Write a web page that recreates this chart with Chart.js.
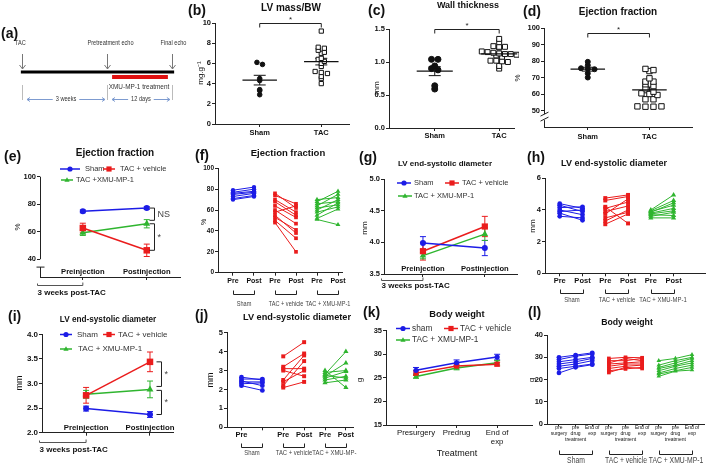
<!DOCTYPE html>
<html>
<head>
<meta charset="utf-8">
<title>XMU-MP-1 after TAC</title>
<script src="https://cdn.jsdelivr.net/npm/chart.js@4.4.1/dist/chart.umd.min.js"></script>
<style>
  body { margin: 0; background: #fff; }
  #fig { position: relative; width: 709px; height: 464px; overflow: hidden; font-family: "Liberation Sans", Arial, sans-serif; color: #111; }
  #fig canvas { position: absolute; }
  .t { position: absolute; white-space: nowrap; line-height: 1; }
  .lab { font-size: 14px; font-weight: bold; }
  .ttl { font-weight: bold; transform: translate(-50%, -50%); }
  .yt { transform: translate(-50%, -50%) rotate(-90deg); }
  .ctr { transform: translate(-50%, -50%); }
</style>
</head>
<body>
<div id="fig"></div>
<script>
const BLUE = '#1c1ce6', RED = '#ea1c1c', GREEN = '#2fb52f';
const FONT = '"Liberation Sans", Arial, sans-serif';

// (a) timeline
const tlEvents = ['TAC', 'Pretreatment echo', 'Final echo'];
const tlPos = [0, 3, 5.29];
const tlPeriods = ['3 weeks', '12 days'];

// (b)-(d) single animals, Sham vs TAC
const groupNames = ['Sham', 'TAC'];
const massSham = [6.1, 5.9, 4.5, 4.3, 3.4, 3.3, 2.9];
const massTAC = [9.2, 7.6, 7.5, 7.3, 7.1, 7.0, 6.5, 6.4, 6.2, 6.0, 5.7, 5.2, 5.1, 5.0, 4.7, 4.5, 4.0];
const wallSham = [1.04, 1.04, 0.94, 0.90, 0.88, 0.64, 0.59];
const wallTAC = [1.35, 1.30, 1.24, 1.23, 1.23, 1.22, 1.16, 1.15, 1.14, 1.13, 1.12, 1.12, 1.11, 1.10, 1.08, 1.02, 1.02, 1.01, 1.00, 0.94, 0.90];
const efSham = [79.5, 77.4, 75.6, 75.2, 75.0, 72.5, 70.0];
const efTAC = [75.2, 74.5, 73.9, 69.5, 67.5, 67.5, 65.9, 64.8, 63.5, 61.4, 60.4, 60.0, 59.4, 56.8, 56.8, 52.5, 52.3, 52.3, 52.5];

// three treatment groups
const treatNames = ['Sham', 'TAC + vehicle', 'TAC + XMU-MP-1'];
const injLabels = ['Preinjection', 'Postinjection'];

// (e) ejection fraction, mean and SEM
const efMeanSham = [74.8, 77.2], efErrSham = [1.0, 1.0];
const efMeanVeh = [62.7, 46.5], efErrVeh = [3.5, 4.5];
const efMeanXmu = [59.3, 65.8], efErrXmu = [2.0, 3.0];

// (f) ejection fraction, each mouse
const prePost = ['Pre', 'Post', 'Pre', 'Post', 'Pre', 'Post'];
const efShamPre = [79, 77, 76, 75, 73, 71, 70];
const efShamPost = [82, 80, 78, 77, 76, 74, 73];
const efVehPre = [76, 74, 70, 68, 64, 60, 58, 55, 53, 50, 48];
const efVehPost = [62, 66, 58, 55, 53, 47, 64, 38, 41, 33, 20];
const efXmuPre = [70, 68, 66, 64, 62, 60, 58, 55, 52, 51];
const efXmuPost = [72, 78, 68, 75, 65, 70, 63, 67, 61, 46];

// (g) LV end-systolic diameter, mean and SEM
const esdAMeanSham = [3.99, 3.91], esdAErrSham = [0.10, 0.12];
const esdAMeanVeh = [3.86, 4.25], esdAErrVeh = [0.14, 0.16];
const esdAMeanXmu = [3.79, 4.13], esdAErrXmu = [0.05, 0.10];

// (h) LV end-systolic diameter, each mouse
const esdAShamPre = [4.4, 4.3, 4.15, 4.0, 3.9, 3.8, 3.6];
const esdAShamPost = [4.1, 3.9, 4.2, 3.7, 4.0, 3.35, 3.5];
const esdAVehPre = [4.75, 4.6, 4.2, 4.1, 3.9, 3.75, 3.5, 3.3, 3.1];
const esdAVehPost = [4.95, 4.85, 3.15, 4.5, 4.25, 4.7, 3.85, 4.0, 3.75];
const esdAXmuPre = [4.0, 3.95, 3.9, 3.85, 3.8, 3.75, 3.7, 3.6, 3.5];
const esdAXmuPost = [4.95, 4.6, 4.3, 4.45, 4.1, 3.95, 3.65, 3.85, 3.5];

// (i) second cohort, mean and SEM
const esdBMeanSham = [2.49, 2.37], esdBErrSham = [0.05, 0.06];
const esdBMeanVeh = [2.76, 3.44], esdBErrVeh = [0.16, 0.20];
const esdBMeanXmu = [2.78, 2.88], esdBErrXmu = [0.08, 0.17];

// (j) second cohort, each mouse
const prePostJ = ['Pre', '', 'Pre', 'Post', 'Pre', 'Post'];
const esdBShamPre = [2.65, 2.55, 2.45, 2.4, 2.3, 2.2];
const esdBShamPost = [2.5, 2.55, 2.2, 2.4, 2.35, 1.95];
const esdBVehPre = [3.75, 3.2, 3.1, 3.0, 2.5, 2.4, 2.2, 2.1];
const esdBVehPost = [4.5, 3.9, 3.1, 2.7, 3.8, 3.0, 3.5, 2.4];
const esdBXmuPre = [3.0, 2.9, 2.8, 2.75, 2.7, 2.6, 2.5, 2.35];
const esdBXmuPost = [2.1, 3.0, 4.0, 2.6, 3.4, 2.95, 2.7, 2.5];

// (k) body weight, mean and SEM
const bwTimes = ['Presurgery', 'Predrug', ['End of', 'exp']];
const bwMeanSham = [26.6, 28.2, 29.4], bwErrSham = [0.6, 0.6, 0.6];
const bwMeanVeh = [26.0, 27.5, 27.9], bwErrVeh = [0.5, 0.4, 0.4];
const bwMeanXmu = [25.3, 27.1, 28.2], bwErrXmu = [0.4, 0.4, 0.5];

// (l) body weight, each mouse
const bwTimesShort = [['pre', 'surgery'], ['pre', 'drug', 'treatment'], ['End of', 'exp']];
const bwShamPre = [30, 29, 28, 27, 26, 25, 23];
const bwShamDrug = [31, 30.5, 29, 28, 27, 26, 25.5];
const bwShamEnd = [32, 31.5, 30, 29.5, 28.5, 27, 26.7];
const bwVehPre = [29.5, 28.5, 27.5, 27, 26, 25, 24, 23.2];
const bwVehDrug = [30, 28.5, 29.5, 27.5, 27, 26, 24.8, 25.5];
const bwVehEnd = [29.8, 29.5, 28.5, 28, 27, 26.5, 25.5, 25];
const bwXmuPre = [28.5, 26.5, 25.5, 25, 24, 23, 22.5, 21.5];
const bwXmuDrug = [29.5, 28.5, 27.5, 26.5, 26, 25, 24, 23.8];
const bwXmuEnd = [31.2, 30, 29.5, 28.5, 27.5, 26.5, 25.5, 24.3];

Chart.defaults.font.family = FONT;
Chart.defaults.color = '#111';

const fig = document.getElementById('fig');

function addText(txt, x, y, cls, size, extra) {
  const d = document.createElement('div');
  d.className = 't ' + cls;
  d.textContent = txt;
  d.style.left = x + 'px';
  d.style.top = y + 'px';
  if (size) d.style.fontSize = size + 'px';
  if (extra) Object.assign(d.style, extra);
  fig.appendChild(d);
}

function seg(ctx, pts) {
  ctx.beginPath();
  pts.forEach((p, i) => i ? ctx.lineTo(p[0], p[1]) : ctx.moveTo(p[0], p[1]));
  ctx.stroke();
}

// the original uses a condensed face; squeeze the regular one sideways
function narrowText(ctx, txt, x, y, k) {
  ctx.save();
  ctx.translate(x, y);
  ctx.scale(k || 0.82, 1);
  ctx.fillText(txt, 0, 0);
  ctx.restore();
}

function mark(ctx, style, x, y, r) {
  ctx.beginPath();
  if (style === 'circle') ctx.arc(x, y, r, 0, Math.PI * 2);
  else if (style === 'rect') ctx.rect(x - r, y - r, 2 * r, 2 * r);
  else { ctx.moveTo(x, y - r * 1.1); ctx.lineTo(x + r, y + r * 0.7); ctx.lineTo(x - r, y + r * 0.7); ctx.closePath(); }
  ctx.fill();
}

const mean = a => a.reduce((s, v) => s + v, 0) / a.length;
const sem = a => { const m = mean(a); return Math.sqrt(a.reduce((s, v) => s + (v - m) * (v - m), 0) / (a.length - 1) / a.length); };

// error bars, brackets, legends and other extras drawn on top of the scales
const deco = {
  id: 'deco',
  beforeDatasetsDraw(chart) {
    const ctx = chart.ctx, xs = chart.scales.x, ys = chart.scales.y;
    ctx.save();
    chart.data.datasets.forEach(ds => {
      if (!ds.errorBars) return;
      ctx.strokeStyle = ds.borderColor;
      ctx.lineWidth = 1;
      ds.data.forEach((p, k) => {
        const e = ds.errorBars[k];
        if (!e) return;
        const px = xs.getPixelForValue(p.x), a = ys.getPixelForValue(p.y - e), b = ys.getPixelForValue(p.y + e), c = ds.capWidth || 3;
        seg(ctx, [[px, a], [px, b]]);
        seg(ctx, [[px - c, a], [px + c, a]]);
        seg(ctx, [[px - c, b], [px + c, b]]);
      });
    });
    ctx.restore();
  },
  afterDraw(chart) {
    const d = chart.data.deco;
    if (!d) return;
    const ctx = chart.ctx, ca = chart.chartArea;
    const X = v => chart.scales.x.getPixelForValue(v), Y = v => chart.scales.y.getPixelForValue(v);
    const L = Math.round(ca.left) + 0.5;
    ctx.save();
    ctx.strokeStyle = '#222'; ctx.fillStyle = '#222'; ctx.lineWidth = 1;
    if (d.yLine) seg(ctx, [[L, Y(d.yLine[0])], [L, Y(d.yLine[1])]]);
    if (d.yStub) {
      const a = Y(d.yStub[0]), b = Y(d.yStub[1]);
      seg(ctx, [[L, a], [L, b]]);
      seg(ctx, [[L - 4, b], [L + 4, b]]);
    }
    if (d.yBreak != null) {
      const yb = Y(d.yBreak);
      ctx.fillStyle = '#fff';
      ctx.fillRect(L - 2, yb - 3, 4, 6);
      seg(ctx, [[L - 4, yb - 1], [L + 4, yb - 5]]);
      seg(ctx, [[L - 4, yb + 4], [L + 4, yb]]);
      ctx.fillStyle = '#222';
    }
    ctx.textAlign = 'center'; ctx.textBaseline = 'middle';
    if (d.above) {
      // Prism placed these category names just above the x axis line
      ctx.font = 'bold ' + d.above.size + 'px ' + FONT;
      ctx.fillStyle = '#111';
      d.above.pos.forEach((p, i) => ctx.fillText(d.above.labels[i], X(p), ca.bottom + d.above.dy));
      ctx.fillStyle = '#222';
    }
    (d.hBrackets || []).forEach(b => {
      const a = X(b.x1), c = X(b.x2), py = Math.round(Y(b.y)) + 0.5;
      seg(ctx, [[a, py + b.drop], [a, py], [c, py], [c, py + b.drop]]);
      ctx.font = '8px ' + FONT;
      ctx.fillText(b.text, (a + c) / 2, py - 4);
    });
    (d.vBrackets || []).forEach(b => {
      const px = Math.round(X(b.x)) + 0.5, a = Y(b.y1), c = Y(b.y2);
      seg(ctx, [[px - b.arm, a], [px, a], [px, c], [px - b.arm, c]]);
      ctx.font = '9px ' + FONT;
      ctx.textAlign = 'left';
      ctx.fillStyle = '#444';
      ctx.fillText(b.text, px + 3, (a + c) / 2);
      ctx.fillStyle = '#222';
      ctx.textAlign = 'center';
    });
    if (d.weeks) {
      const w = d.weeks, yy = Math.round(ca.bottom + w.dy) + 0.5, a = L - 3, b = X(w.x2);
      ctx.strokeStyle = '#555';
      seg(ctx, [[a, yy - 2], [a, yy], [b, yy], [b, yy - 3]]);
      ctx.font = 'bold 8px ' + FONT;
      ctx.textAlign = 'left';
      ctx.fillStyle = '#111';
      ctx.fillText(w.text, a, ca.bottom + w.ty);
      ctx.textAlign = 'center';
      ctx.strokeStyle = '#222';
    }
    if (d.groups) {
      ctx.font = (d.gSize || 7) + 'px ' + FONT;
      d.groups.forEach(g => {
        const a = Math.round(X(g.x1)) + 0.5, c = Math.round(X(g.x2)) + 0.5, yy = Math.round(ca.bottom + d.gLine) + 0.5;
        ctx.strokeStyle = '#222';
        seg(ctx, [[a, yy - d.gTick], [a, yy], [c, yy], [c, yy - d.gTick]]);
        ctx.fillStyle = '#444';
        narrowText(ctx, g.text, (a + c) / 2, ca.bottom + d.gText, 0.8);
      });
    }
    if (d.legend) {
      ctx.font = (d.legendSize || 7.5) + 'px ' + FONT;
      ctx.textAlign = 'left';
      d.legend.forEach(it => {
        const x = it.x - d.ox, y = it.y - d.oy, hw = it.hw || 7;
        ctx.strokeStyle = it.c; ctx.fillStyle = it.c; ctx.lineWidth = 1.5;
        seg(ctx, [[x - hw, y], [x + hw, y]]);
        mark(ctx, it.s, x, y, 2.6);
        ctx.fillStyle = '#333';
        ctx.fillText(it.t, it.tx - d.ox, y);
      });
    }
    ctx.restore();
  }
};
Chart.register(deco);

function xAxis(min, max, pos, labels, o) {
  o = o || {};
  return {
    type: 'linear', min, max,
    afterBuildTicks: s => { s.ticks = pos.map(v => ({ value: v })); },
    ticks: {
      autoSkip: false, maxRotation: 0, minRotation: 0, padding: o.pad == null ? 1 : o.pad, color: '#111',
      font: { size: o.size || 7.5, weight: o.weight || 'bold', lineHeight: o.lh || 1.2 },
      callback: (v, i) => labels[i]
    },
    grid: { display: true, drawOnChartArea: false, drawTicks: true, tickLength: o.tl == null ? 3 : o.tl, color: '#222', lineWidth: 1 },
    border: { display: true, color: '#222', width: 1 }
  };
}

function yAxis(min, max, ticks, fmt, o) {
  o = o || {};
  return {
    type: 'linear', min, max,
    afterBuildTicks: s => { s.ticks = ticks.map(v => ({ value: v })); },
    ticks: { padding: 1, color: '#111', font: { size: o.size || 7.5, weight: 'bold' }, callback: v => fmt(v) },
    grid: { display: true, drawOnChartArea: false, drawTicks: true, tickLength: 3, color: '#222', lineWidth: 1 },
    border: { display: o.border == null ? true : o.border, color: '#222', width: 1 }
  };
}

function panel(box, config) {
  const left = Math.round(box.l - box.yw), top = Math.round(box.t - box.pt);
  const w = Math.round(box.r + box.pr) - left, h = Math.round(box.b + box.xh) - top;
  const c = document.createElement('canvas');
  c.width = w; c.height = h;
  c.style.left = left + 'px'; c.style.top = top + 'px';
  c.style.width = w + 'px'; c.style.height = h + 'px';
  fig.appendChild(c);
  const o = config.options = config.options || {};
  o.responsive = false;
  o.animation = false;
  o.events = [];
  o.layout = { padding: { left: 0, top: box.t - top, right: left + w - box.r, bottom: 0 } };
  o.plugins = { legend: { display: false }, tooltip: { enabled: false } };
  o.scales.x.afterFit = s => { s.height = top + h - box.b; };
  o.scales.y.afterFit = s => { s.width = box.l - left; };
  if (config.data.deco) { config.data.deco.ox = left; config.data.deco.oy = top; }
  return new Chart(c, config);
}

// dot cloud like Prism's scatter: values in the same band are spread sideways
function swarm(vals, pos, bin, dx) {
  const rows = {};
  vals.forEach(v => { const k = Math.round(v / bin); (rows[k] = rows[k] || []).push(v); });
  const out = [];
  Object.values(rows).forEach(r => r.forEach((v, i) => out.push({ x: pos + (i - (r.length - 1) / 2) * dx, y: v })));
  return out;
}

function swarmSets(vals, pos, style, r, bin, dx) {
  const m = mean(vals);
  return [
    { data: [{ x: pos - 0.28, y: m }, { x: pos + 0.28, y: m }], showLine: true, pointRadius: 0, borderColor: '#111', borderWidth: 1.2, clip: false },
    { data: [{ x: pos, y: m }], pointRadius: 0, errorBars: [sem(vals)], capWidth: 6, borderColor: '#111', clip: false },
    { data: swarm(vals, pos, bin, dx), pointStyle: style, pointRadius: r, backgroundColor: style === 'circle' ? '#111' : '#fff', borderColor: '#111', pointBorderWidth: 1, clip: false }
  ];
}

function meanSets(groups, pos) {
  return groups.map(g => ({
    data: g.m.map((v, i) => ({ x: pos[i], y: v })),
    errorBars: g.e, capWidth: 3,
    showLine: true, borderColor: g.c, backgroundColor: g.c, borderWidth: 1.5,
    pointStyle: g.s, pointRadius: g.r, pointBorderWidth: 0, clip: false
  }));
}

function pairSets(groups) {
  const out = [];
  groups.forEach(g => {
    g.cols[0].forEach((_, i) => out.push({
      data: g.cols.map((col, k) => ({ x: g.xs[k], y: col[i] })),
      showLine: true, borderColor: g.c, backgroundColor: g.c, borderWidth: 1,
      pointStyle: g.s, pointRadius: g.r, pointBorderWidth: 0, clip: false
    }));
  });
  return out;
}

const num = v => String(v);
const dec1 = v => v.toFixed(1);
const blank = ['', ''];

// (a) study timeline
const timeline = {
  id: 'timeline',
  afterDatasetsDraw(chart) {
    const ctx = chart.ctx, X = v => chart.scales.x.getPixelForValue(v), Y = v => chart.scales.y.getPixelForValue(v);
    ctx.save();
    ctx.textAlign = 'center'; ctx.textBaseline = 'middle';
    ctx.font = '7px ' + FONT;
    tlPos.forEach((x, i) => {
      const px = Math.round(X(x)) + 0.5;
      ctx.fillStyle = '#333';
      narrowText(ctx, tlEvents[i], px + (i === 0 ? -2 : i === 1 ? 3 : 1), Y(67), 0.8);
      ctx.strokeStyle = '#777'; ctx.lineWidth = 1;
      seg(ctx, [[px, Y(56)], [px, Y(41)]]);
      seg(ctx, [[px - 3, Y(45)], [px, Y(41)], [px + 3, Y(45)]]);
      ctx.strokeStyle = '#bbb';
      seg(ctx, [[px, Y(25)], [px, Y(10)]]);
    });
    ctx.font = '8px ' + FONT;
    narrowText(ctx, 'XMU-MP-1 treatment', X(4.13), Y(23), 0.8);
    ctx.font = '7px ' + FONT;
    for (let i = 0; i < tlPeriods.length; i++) {
      const a = X(tlPos[i]) + 5, b = X(tlPos[i + 1]) - 2, yy = Math.round(Y(11)) + 0.5;
      ctx.strokeStyle = '#7d9bd0'; ctx.fillStyle = '#7d9bd0';
      seg(ctx, [[a, yy], [b, yy]]);
      seg(ctx, [[a + 3, yy - 2], [a, yy], [a + 3, yy + 2]]);
      seg(ctx, [[b - 3, yy - 2], [b, yy], [b - 3, yy + 2]]);
      const tw = ctx.measureText(tlPeriods[i]).width * 0.8 + 6;
      ctx.fillStyle = '#fff';
      ctx.fillRect((a + b) / 2 - tw / 2, yy - 4, tw, 8);
      ctx.fillStyle = '#333';
      narrowText(ctx, tlPeriods[i], (a + b) / 2, yy, 0.8);
    }
    ctx.restore();
  }
};

(function drawTimeline() {
  const c = document.createElement('canvas');
  c.width = 190; c.height = 70;
  c.style.left = '0px'; c.style.top = '40px'; c.style.width = '190px'; c.style.height = '70px';
  fig.appendChild(c);
  new Chart(c, {
    type: 'scatter',
    data: {
      datasets: [
        { data: [{ x: tlPos[0] - 0.04, y: 38 }, { x: tlPos[2] + 0.08, y: 38 }], showLine: true, borderColor: '#000', borderWidth: 3, pointRadius: 0 },
        { data: [{ x: tlPos[1] + 0.18, y: 33 }, { x: tlPos[2] - 0.14, y: 33 }], showLine: true, borderColor: '#e01010', borderWidth: 4, pointRadius: 0 }
      ]
    },
    options: {
      responsive: false, animation: false, events: [],
      layout: { padding: 0 },
      plugins: { legend: { display: false }, tooltip: { enabled: false } },
      scales: { x: { type: 'linear', display: false, min: -0.776, max: 5.93 }, y: { type: 'linear', display: false, min: 0, max: 70 } }
    },
    plugins: [timeline]
  });
})();

// (b) LV mass/BW
panel({ l: 215, t: 23, r: 350, b: 124, yw: 22, xh: 16, pt: 12, pr: 4 }, {
  type: 'scatter',
  data: {
    datasets: [...swarmSets(massSham, 1, 'circle', 2.3, 0.35, 0.09), ...swarmSets(massTAC, 2, 'rect', 3, 0.3, 0.1)],
    deco: { hBrackets: [{ x1: 1, x2: 2, y: 10, drop: 4, text: '*' }] }
  },
  options: { scales: { x: xAxis(0.274, 2.45, [1, 2], groupNames, { pad: 1 }), y: yAxis(0, 10, [0, 2, 4, 6, 8, 10], num) } }
});

// (c) wall thickness
panel({ l: 389, t: 29, r: 515, b: 128, yw: 22, xh: 16, pt: 12, pr: 4 }, {
  type: 'scatter',
  data: {
    datasets: [...swarmSets(wallSham, 1, 'circle', 3, 0.05, 0.1), ...swarmSets(wallTAC, 2, 'rect', 3.5, 0.06, 0.09)],
    deco: { hBrackets: [{ x1: 1, x2: 2, y: 1.5, drop: 4, text: '*' }] }
  },
  options: { scales: { x: xAxis(0.29, 2.23, [1, 2], groupNames, { pad: 0 }), y: yAxis(0, 1.5, [0, 0.5, 1, 1.5], dec1) } }
});

// (d) ejection fraction
panel({ l: 544, t: 28, r: 693, b: 127, yw: 24, xh: 16, pt: 12, pr: 4 }, {
  type: 'scatter',
  data: {
    datasets: [...swarmSets(efSham, 1, 'circle', 2.5, 2.5, 0.11), ...swarmSets(efTAC, 2, 'rect', 3.8, 2.6, 0.13)],
    deco: { hBrackets: [{ x1: 1, x2: 2, y: 96.8, drop: 4, text: '*' }], yBreak: 46 }
  },
  options: { scales: { x: xAxis(0.29, 2.69, [1, 2], groupNames, { pad: 2 }), y: yAxis(40, 100, [50, 60, 70, 80, 90, 100], num) } }
});

// (e) ejection fraction, group means
panel({ l: 40, t: 176.7, r: 180, b: 277, yw: 24, xh: 28, pt: 20, pr: 14 }, {
  type: 'scatter',
  data: {
    datasets: meanSets([
      { m: efMeanSham, e: efErrSham, c: BLUE, s: 'circle', r: 3 },
      { m: efMeanVeh, e: efErrVeh, c: RED, s: 'rect', r: 4.6 },
      { m: efMeanXmu, e: efErrXmu, c: GREEN, s: 'triangle', r: 4 }
    ], [1, 2]),
    deco: {
      yLine: [40, 100], yStub: [27.1, 34.3],
      above: { pos: [1, 2], labels: injLabels, dy: -5, size: 7.6 },
      vBrackets: [
        { x: 2.11, y1: efMeanSham[1], y2: efMeanXmu[1] + 2.5, arm: 5, text: 'NS' },
        { x: 2.11, y1: efMeanXmu[1], y2: efMeanVeh[1], arm: 5, text: '*' }
      ],
      weeks: { x2: 1, dy: 8, ty: 16, text: '3 weeks post-TAC' },
      legend: [
        { t: treatNames[0], c: BLUE, s: 'circle', x: 70, y: 169, tx: 85, hw: 10 },
        { t: treatNames[1], c: RED, s: 'rect', x: 109, y: 169, tx: 120, hw: 6 },
        { t: treatNames[2].replace('+ ', '+'), c: GREEN, s: 'triangle', x: 67, y: 180, tx: 76, hw: 6 }
      ]
    }
  },
  options: { scales: { x: xAxis(0.33, 2.52, [1, 2], blank), y: yAxis(27.1, 100, [40, 60, 80, 100], num, { border: false }) } }
});

// (f) ejection fraction, each mouse
panel({ l: 218, t: 168.3, r: 342, b: 272.7, yw: 22, xh: 40, pt: 6, pr: 16 }, {
  type: 'scatter',
  data: {
    datasets: pairSets([
      { cols: [efShamPre, efShamPost], xs: [1, 2], c: BLUE, s: 'circle', r: 2.2 },
      { cols: [efVehPre, efVehPost], xs: [3, 4], c: RED, s: 'rect', r: 2.6 },
      { cols: [efXmuPre, efXmuPost], xs: [5, 6], c: GREEN, s: 'triangle', r: 2.8 }
    ]),
    deco: {
      groups: [{ x1: 1, x2: 2, text: treatNames[0] }, { x1: 3, x2: 4, text: treatNames[1] }, { x1: 5, x2: 6, text: treatNames[2] }],
      gLine: 21, gTick: 4, gText: 31, gSize: 7
    }
  },
  options: { scales: { x: xAxis(0.286, 6.19, [1, 2, 3, 4, 5, 6], prePost, { pad: 1, size: 7 }), y: yAxis(0, 100, [0, 20, 40, 60, 80, 100], num, { size: 6.5 }) } }
});

// (g) LV end-systolic diameter, group means
panel({ l: 384, t: 179, r: 518, b: 274, yw: 24, xh: 22, pt: 6, pr: 4 }, {
  type: 'scatter',
  data: {
    datasets: meanSets([
      { m: esdAMeanSham, e: esdAErrSham, c: BLUE, s: 'circle', r: 3 },
      { m: esdAMeanVeh, e: esdAErrVeh, c: RED, s: 'rect', r: 4.4 },
      { m: esdAMeanXmu, e: esdAErrXmu, c: GREEN, s: 'triangle', r: 3.8 }
    ], [1, 2]),
    deco: {
      above: { pos: [1, 2], labels: injLabels, dy: -5, size: 7.6 },
      weeks: { x2: 1, dy: 6, ty: 12, text: '3 weeks post-TAC' },
      legend: [
        { t: treatNames[0], c: BLUE, s: 'circle', x: 404, y: 183, tx: 414 },
        { t: treatNames[1], c: RED, s: 'rect', x: 452, y: 183, tx: 462 },
        { t: treatNames[2], c: GREEN, s: 'triangle', x: 405, y: 196, tx: 414 }
      ]
    }
  },
  options: { scales: { x: xAxis(0.37, 2.53, [1, 2], blank), y: yAxis(3.5, 5, [3.5, 4, 4.5, 5], dec1) } }
});

// (h) LV end-systolic diameter, each mouse
panel({ l: 545, t: 178.3, r: 708, b: 273.3, yw: 14, xh: 36, pt: 6, pr: 1 }, {
  type: 'scatter',
  data: {
    datasets: pairSets([
      { cols: [esdAShamPre, esdAShamPost], xs: [1, 2], c: BLUE, s: 'circle', r: 2.4 },
      { cols: [esdAVehPre, esdAVehPost], xs: [3, 4], c: RED, s: 'rect', r: 2.8 },
      { cols: [esdAXmuPre, esdAXmuPost], xs: [5, 6], c: GREEN, s: 'triangle', r: 3 }
    ]),
    deco: {
      groups: [{ x1: 1, x2: 2, text: treatNames[0] }, { x1: 3, x2: 4, text: treatNames[1] }, { x1: 5, x2: 6, text: treatNames[2] }],
      gLine: 20, gTick: 4, gText: 27, gSize: 7.4
    }
  },
  options: { scales: { x: xAxis(0.353, 7.38, [1, 2, 3, 4, 5, 6], prePost, { pad: 0.6 }), y: yAxis(0, 6, [0, 2, 4, 6], num) } }
});

// (i) LV end-systolic diameter, second cohort means
panel({ l: 42, t: 334.3, r: 173, b: 432.7, yw: 24, xh: 26, pt: 8, pr: 12 }, {
  type: 'scatter',
  data: {
    datasets: meanSets([
      { m: esdBMeanSham, e: esdBErrSham, c: BLUE, s: 'circle', r: 3 },
      { m: esdBMeanVeh, e: esdBErrVeh, c: RED, s: 'rect', r: 4.6 },
      { m: esdBMeanXmu, e: esdBErrXmu, c: GREEN, s: 'triangle', r: 4 }
    ], [1, 2]),
    deco: {
      above: { pos: [1, 2], labels: injLabels, dy: -5, size: 7.8 },
      vBrackets: [
        { x: 2.17, y1: esdBMeanVeh[1], y2: esdBMeanXmu[1] + 0.06, arm: 5, text: '*' },
        { x: 2.17, y1: esdBMeanXmu[1] - 0.02, y2: esdBMeanSham[1], arm: 5, text: '*' }
      ],
      weeks: { x2: 1, dy: 9, ty: 17.5, text: '3 weeks post-TAC' },
      legend: [
        { t: treatNames[0], c: BLUE, s: 'circle', x: 66, y: 334.5, tx: 77, hw: 6 },
        { t: treatNames[1], c: RED, s: 'rect', x: 109, y: 334.5, tx: 118, hw: 6 },
        { t: treatNames[2], c: GREEN, s: 'triangle', x: 66, y: 349, tx: 78, hw: 6 }
      ],
      legendSize: 8
    }
  },
  options: { scales: { x: xAxis(0.31, 2.36, [1, 2], blank), y: yAxis(2, 4, [2, 2.5, 3, 3.5, 4], dec1, { size: 8 }) } }
});

// (j) LV end-systolic diameter, second cohort each mouse
panel({ l: 227, t: 332.7, r: 355, b: 427.3, yw: 14, xh: 34, pt: 6, pr: 2 }, {
  type: 'scatter',
  data: {
    datasets: pairSets([
      { cols: [esdBShamPre, esdBShamPost], xs: [1, 2], c: BLUE, s: 'circle', r: 2.4 },
      { cols: [esdBVehPre, esdBVehPost], xs: [3, 4], c: RED, s: 'rect', r: 2.8 },
      { cols: [esdBXmuPre, esdBXmuPost], xs: [5, 6], c: GREEN, s: 'triangle', r: 3 }
    ]),
    deco: {
      groups: [{ x1: 1, x2: 2, text: treatNames[0] }, { x1: 3, x2: 4, text: treatNames[1] }, { x1: 5, x2: 6, text: treatNames[2] }],
      gLine: 19.5, gTick: 4, gText: 26, gSize: 7.4
    }
  },
  options: { scales: { x: xAxis(0.307, 6.34, [1, 2, 3, 4, 5, 6], prePostJ, { pad: 0.6 }), y: yAxis(0, 5, [0, 1, 2, 3, 4, 5], num) } }
});

// (k) body weight, group means
panel({ l: 386, t: 330.7, r: 532, b: 425, yw: 20, xh: 30, pt: 8, pr: 4 }, {
  type: 'scatter',
  data: {
    datasets: meanSets([
      { m: bwMeanSham, e: bwErrSham, c: BLUE, s: 'circle', r: 2.6 },
      { m: bwMeanVeh, e: bwErrVeh, c: RED, s: 'rect', r: 3.6 },
      { m: bwMeanXmu, e: bwErrXmu, c: GREEN, s: 'triangle', r: 3.4 }
    ], [1, 2, 3]),
    deco: {
      legend: [
        { t: 'sham', c: BLUE, s: 'circle', x: 403, y: 328.5, tx: 412 },
        { t: treatNames[1], c: RED, s: 'rect', x: 451, y: 328.5, tx: 460 },
        { t: treatNames[2], c: GREEN, s: 'triangle', x: 403, y: 340, tx: 412 }
      ],
      legendSize: 8.3
    }
  },
  options: { scales: { x: xAxis(0.26, 3.86, [1, 2, 3], bwTimes, { pad: 0, size: 7.8, weight: 'normal' }), y: yAxis(15, 35, [15, 20, 25, 30, 35], num, { size: 7.5 }) } }
});

// (l) body weight, each mouse
panel({ l: 547, t: 335, r: 705, b: 424.3, yw: 14, xh: 39, pt: 6, pr: 3 }, {
  type: 'scatter',
  data: {
    datasets: pairSets([
      { cols: [bwShamPre, bwShamDrug, bwShamEnd], xs: [1, 2, 3], c: BLUE, s: 'circle', r: 2.4 },
      { cols: [bwVehPre, bwVehDrug, bwVehEnd], xs: [4, 5, 6], c: RED, s: 'rect', r: 2.6 },
      { cols: [bwXmuPre, bwXmuDrug, bwXmuEnd], xs: [7, 8, 9], c: GREEN, s: 'triangle', r: 2.6 }
    ]),
    deco: {
      groups: [{ x1: 1, x2: 3, text: treatNames[0] }, { x1: 4, x2: 6, text: treatNames[1] }, { x1: 7, x2: 9, text: treatNames[2] }],
      gLine: 30, gTick: 4, gText: 36, gSize: 8.5
    }
  },
  options: { scales: { x: xAxis(0.28, 9.72, [1, 2, 3, 4, 5, 6, 7, 8, 9], bwTimesShort.concat(bwTimesShort, bwTimesShort), { pad: -1.5, tl: 2, size: 5, weight: 'normal', lh: 1.15 }), y: yAxis(0, 40, [0, 10, 20, 30, 40], num) } }
});

// panel letters, titles and axis titles
[['(a)', 1, 26], ['(b)', 188, 3], ['(c)', 368, 3], ['(d)', 523, 4], ['(e)', 4, 149], ['(f)', 195, 148],
 ['(g)', 359, 150], ['(h)', 527, 150], ['(i)', 8, 309], ['(j)', 195, 308], ['(k)', 363, 305], ['(l)', 528, 305]]
  .forEach(p => addText(p[0], p[1], p[2], 'lab'));

[['LV mass/BW', 291, 8, 10], ['Wall thickness', 468, 5, 9], ['Ejection fraction', 618, 12, 10],
 ['Ejection fraction', 115, 153, 10], ['Ejection fraction', 288, 153, 9.5], ['LV end-systolic diameter', 445, 164, 8],
 ['LV end-systolic diameter', 614, 163, 9], ['LV end-systolic diameter', 108, 320, 8.2], ['LV end-systolic diameter', 297, 318, 9.2],
 ['Body weight', 457, 315, 9.3], ['Body weight', 627, 322, 8.7]]
  .forEach(p => addText(p[0], p[1], p[2], 'ttl', p[3]));

[['mg.g\u207B\u00B9', 201, 73, 8], ['mm', 377, 88, 8], ['%', 518, 78, 8], ['%', 18, 227, 8], ['%', 203, 222, 7],
 ['mm', 365, 228, 8], ['mm', 533, 226, 8], ['mm', 19, 383, 9], ['mm', 210, 380, 9], ['g', 360, 380, 8], ['g', 532, 380, 8]]
  .forEach(p => addText(p[0], p[1], p[2], 'yt', p[3]));

addText('Treatment', 457, 453, 'ctr', 9);
</script>
</body>
</html>
